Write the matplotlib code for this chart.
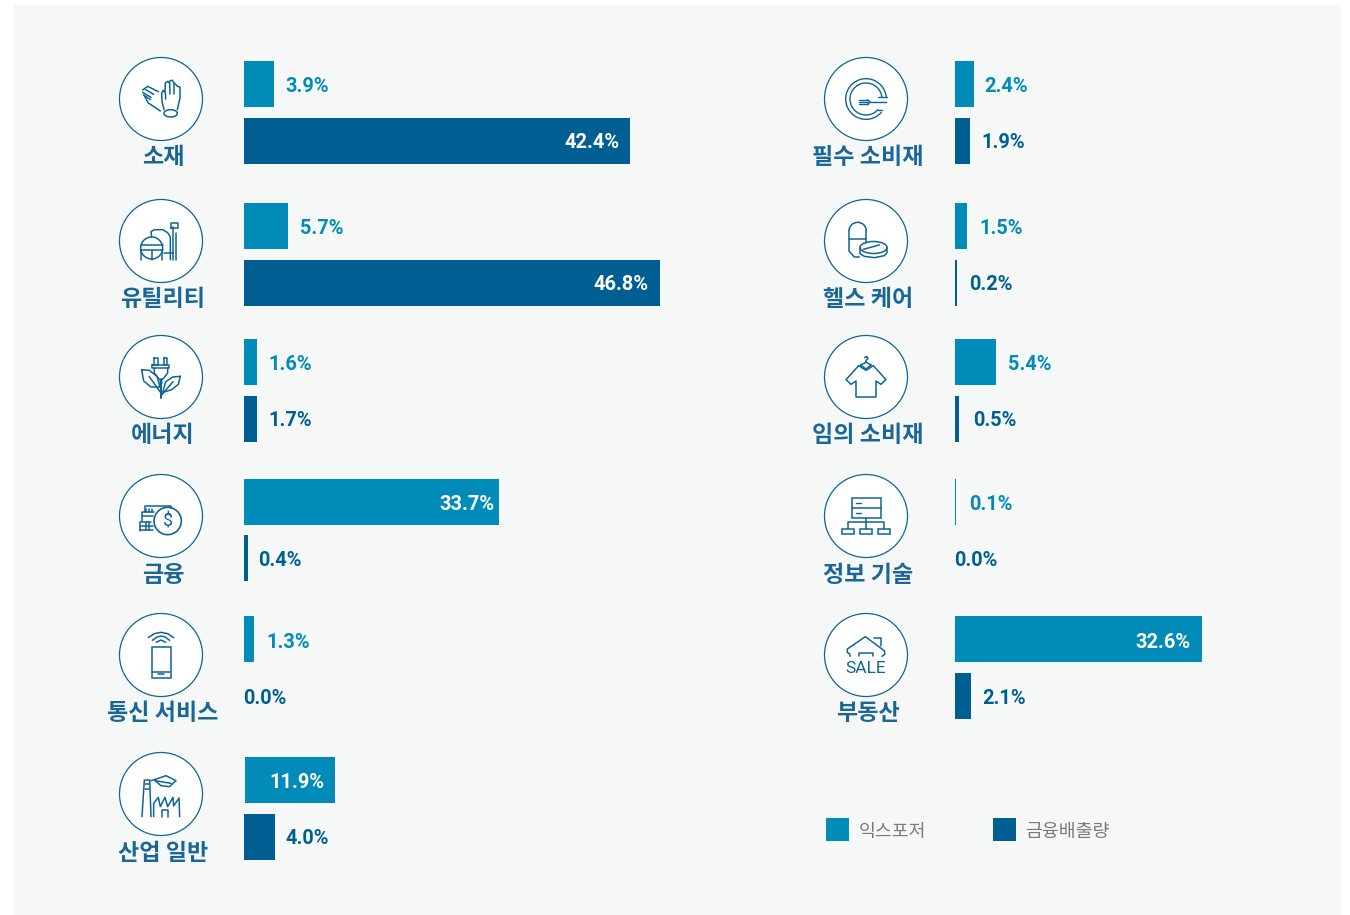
import matplotlib
matplotlib.use('Agg')
import matplotlib.pyplot as plt
from matplotlib.patches import Arc, Circle, Ellipse, Rectangle

plt.rcParams['font.family'] = ['Noto Sans CJK KR', 'DejaVu Sans']

# values as printed on the chart
left_names = ['소재', '유틸리티', '에너지', '금융', '통신 서비스', '산업 일반']
left_exposure = [3.9, 5.7, 1.6, 33.7, 1.3, 11.9]
left_financed = [42.4, 46.8, 1.7, 0.4, 0.0, 4.0]
right_names = ['필수 소비재', '헬스 케어', '임의 소비재', '정보 기술', '부동산']
right_exposure = [2.4, 1.5, 5.4, 0.1, 32.6]
right_financed = [1.9, 0.2, 0.5, 0.0, 2.1]

# bar lengths as drawn: the source does not scale the two longest bars like the rest
left_exposure_len = [3.95, 5.79, 1.71, 33.55, 1.32, 11.84]
left_financed_len = [50.8, 54.7, 1.71, 0.53, 0.0, 4.08]
right_exposure_len = [2.5, 1.58, 5.39, 0.13, 32.5]
right_financed_len = [1.97, 0.26, 0.53, 0.0, 2.1]

legend_names = ['익스포저', '금융배출량']

C_EXP = '#008bb9'
C_FIN = '#005f92'
C_LINE = '#0f6494'
C_NAME = '#1a6797'
W, H = 1350, 915
PX = 7.6  # pixels per unit on the bar axes
BAR_H = 46
row_exp = [61, 203, 339, 479, 616, 757]
row_fin = [118, 260, 396, 535, 673, 814]
row_icon = [99, 241, 377, 516, 655, 794]
row_name = [158, 300, 436, 575, 714, 853]
label_exp_y = [87, 229, 365, 504, 642, 782]
label_fin_y = [143, 285, 421, 561, 698, 839]

fig = plt.figure(figsize=(13.5, 9.15), dpi=100, facecolor='white')
bg = fig.add_axes([0, 0, 1, 1])
bg.set_xlim(0, W)
bg.set_ylim(H, 0)
bg.axis('off')
bg.add_patch(Rectangle((14, 5), 1327, 910, fc='#f6f8f8', ec='none'))


def pl(cx, cy, pts, lw=1.1):
    # points are in 1/3 pixel units around the icon centre
    bg.plot([cx + p[0] / 3 for p in pts], [cy + p[1] / 3 for p in pts], color=C_LINE, lw=lw,
            solid_joinstyle='round', solid_capstyle='round', zorder=4)


def arc(cx, cy, x, y, w, h, a1=0, a2=360, lw=1.1):
    bg.add_patch(Arc((cx + x / 3, cy + y / 3), w / 3, h / 3, theta1=a1, theta2=a2, color=C_LINE, lw=lw, zorder=4))


def glove(c, y):
    pl(c, y, [(9, 32), (3, 7), (2, -18), (7, -26), (12, -20), (13, -48), (20, -53), (25, -48), (27, -55), (34, -56),
              (39, -48), (45, -43), (49, -38), (57, -36), (57, -3), (49, 32)])
    pl(c, y, [(13, -20), (14, 0)])
    pl(c, y, [(26, -48), (27, -15)])
    pl(c, y, [(39, -48), (39, -15)])
    arc(c, y, 29, 43, 40, 22)
    pl(c, y, [(-55, -27), (-40, -38), (-8, -22)])
    pl(c, y, [(-55, -20), (-30, -5)])
    pl(c, y, [(-52, -12), (-32, 2)])
    pl(c, y, [(-46, -28), (-22, -14)])
    pl(c, y, [(-50, -10), (-38, 12), (-2, 36)])


def plant(c, y):
    arc(c, y, -28, 21, 66, 66)
    pl(c, y, [(-61, 11), (5, 11)])
    pl(c, y, [(-61, 26), (5, 26)])
    pl(c, y, [(-60, 26), (-60, 56)])
    pl(c, y, [(4, 26), (4, 56)])
    pl(c, y, [(-28, 26), (-28, 56)])
    pl(c, y, [(-28, -12), (-30, -28), (-20, -34), (5, -34), (20, -25), (28, -12), (28, 56)])
    pl(c, y, [(36, 56), (36, -42)])
    pl(c, y, [(46, 56), (46, -25)])
    pl(c, y, [(30, -38), (30, -54), (50, -54), (50, -38), (30, -38)])
    pl(c, y, [(8, 35), (36, 35)])


def leafplug(c, y):
    pl(c, y, [(-22, -58), (-22, -36), (-10, -36), (-10, -58), (-22, -58)])
    pl(c, y, [(8, -58), (8, -36), (19, -36), (19, -58), (8, -58)])
    pl(c, y, [(-26, -36), (25, -36), (25, -28), (-26, -28), (-26, -36)])
    pl(c, y, [(-20, -28), (-20, -12), (-6, 6), (-2, 6), (-2, 20)])
    pl(c, y, [(20, -28), (20, -12), (6, 6), (2, 6), (2, 20)])
    pl(c, y, [(0, 20), (0, 62)], lw=1.5)
    pl(c, y, [(-58, -22), (-35, -20), (-12, -2), (-3, 30), (-30, 30), (-52, 12), (-58, -22)])
    pl(c, y, [(-36, -2), (0, 48)])
    pl(c, y, [(58, -2), (35, 0), (14, 14), (5, 46), (32, 38), (52, 22), (58, -2)])
    pl(c, y, [(36, 14), (0, 56)])


def money(c, y):
    bg.add_patch(Circle((c + 20 / 3, y + 15 / 3), 41 / 3, fc='none', ec=C_LINE, lw=1.2, zorder=4))
    bg.text(c + 20 / 3, y + 15 / 3, '$', color=C_LINE, ha='center', va='center', fontsize=13, family='Roboto', zorder=4)
    pl(c, y, [(-48, -12), (-48, -30), (30, -30), (30, -24)])
    pl(c, y, [(-58, 15), (-58, -12), (-20, -12)])
    pl(c, y, [(-62, 45), (-62, 18), (-30, 18)])
    pl(c, y, [(-62, 43), (-24, 43)])
    pl(c, y, [(-62, 30), (-25, 30)])
    pl(c, y, [(-58, 0), (-25, 0)])
    for d in (-45, -36):
        pl(c, y, [(d, -22), (d, -12)])
        pl(c, y, [(d, 18), (d, 43)])
    pl(c, y, [(-28, -22), (-28, -12)])


def phone(c, y):
    bg.add_patch(Rectangle((c - 9.5, y - 8.5), 19, 31, fc='none', ec=C_LINE, lw=1.1, zorder=4))
    pl(c, y, [(-28, 50), (28, 50)])
    pl(c, y, [(-8, 58), (8, 58)])
    pl(c, y, [(-38, -52), (-20, -64), (0, -68), (20, -64), (38, -52)])
    pl(c, y, [(-26, -44), (-12, -54), (0, -57), (12, -54), (26, -44)])
    pl(c, y, [(-14, -38), (0, -45), (14, -38)])


def factory(c, y):
    pl(c, y, [(-57, 68), (-50, -42), (-34, -42), (-30, 68)])
    pl(c, y, [(-48, -30), (-36, -30)])
    pl(c, y, [(-48, -15), (-36, -15)])
    pl(c, y, [(-22, 68), (-22, 28), (-8, 10), (-2, 38), (12, 10), (20, 38), (36, 10), (38, 36), (54, 12), (56, 68)])
    pl(c, y, [(2, 68), (2, 48), (22, 48), (22, 68)])
    pl(c, y, [(-30, -40), (-5, -48), (15, -55), (45, -40), (25, -22), (0, -25), (-18, -40)])
    pl(c, y, [(-18, -40), (30, -32)])


def plate(c, y):
    arc(c, y, 0, 0, 122, 122, 40, 355, lw=1)
    arc(c, y, 0, 0, 96, 96, 40, 355, lw=1)
    pl(c, y, [(-22, 2), (5, 2)], lw=1)
    pl(c, y, [(-22, 9), (5, 9)], lw=1)
    pl(c, y, [(-22, 16), (5, 16)], lw=1)
    pl(c, y, [(5, 2), (12, 9), (5, 16)], lw=1)
    pl(c, y, [(12, 9), (60, 9)], lw=1)
    pl(c, y, [(36, -5), (62, -5)], lw=1)
    pl(c, y, [(36, 34), (48, 34)], lw=1)


def pill(c, y):
    arc(c, y, -25, -30, 52, 52, 180, 360)
    pl(c, y, [(-51, -30), (-51, 30), (-35, 48), (-20, 48)])
    pl(c, y, [(1, -30), (1, 5)])
    pl(c, y, [(-51, -5), (1, -5)])
    bg.add_patch(Ellipse((c + 7.5, y + 6.5), 27, 12, fc='none', ec=C_LINE, lw=1.1, zorder=4))
    pl(c, y, [(-18, 20), (-18, 38), (-5, 46), (25, 50), (55, 44), (63, 35), (63, 20)])
    pl(c, y, [(-8, 25), (40, 12)])


def shirt(c, y):
    pl(c, y, [(-22, -34), (-60, 8), (-45, 22), (-30, 12), (-30, 60), (30, 60), (30, 12), (45, 22), (60, 8), (22, -34),
              (0, -20), (-22, -34)])
    pl(c, y, [(-16, -36), (0, -24), (16, -36), (0, -44), (-16, -36)])
    pl(c, y, [(0, -44), (0, -50), (6, -56), (2, -62), (-4, -58)])


def server(c, y):
    bg.add_patch(Rectangle((c - 14, y - 18), 28.5, 20, fc='none', ec=C_LINE, lw=1.1, zorder=4))
    pl(c, y, [(-42, -25), (44, -25)])
    pl(c, y, [(-30, -40), (-14, -40)], lw=1)
    pl(c, y, [(-30, -9), (-14, -9)], lw=1)
    pl(c, y, [(0, 7), (0, 38)])
    pl(c, y, [(-54, 38), (-54, 18), (54, 18), (54, 38)])
    for d in (-55, 0, 55):
        bg.add_patch(Rectangle((c + d / 3 - 6, y + 12.7), 12, 5.6, fc='none', ec=C_LINE, lw=1.1, zorder=4))


def house(c, y):
    pl(c, y, [(-56, -8), (-56, -18), (-2, -55), (56, -12), (56, -2)])
    pl(c, y, [(24, -50), (46, -50), (46, -26)])
    pl(c, y, [(-56, -8), (-48, -2), (-48, 4)])
    pl(c, y, [(56, -2), (48, 4)])
    pl(c, y, [(-20, 4), (-20, -6), (20, -6), (20, 4)])
    bg.text(c, y + 13.5, 'SALE', color=C_LINE, ha='center', va='center', fontsize=12.5, family='Roboto', zorder=4)


left_icons = [glove, plant, leafplug, money, phone, factory]
right_icons = [plate, pill, shirt, server, house]


def draw_panel(x0, name_x, names, exp, fin, exp_len, fin_len, icons, inside, gaps):
    ax = fig.add_axes([x0 / W, 0, 60 * PX / W, 1])
    ax.set_xlim(0, 60)
    ax.set_ylim(H, 0)
    ax.axis('off')
    ax.patch.set_alpha(0)
    for i, name in enumerate(names):
        start = 0.13 if exp[i] == 11.9 else 0
        ax.barh(row_exp[i], exp_len[i], left=start, height=BAR_H, align='edge', color=C_EXP)
        ax.barh(row_fin[i], fin_len[i], height=BAR_H, align='edge', color=C_FIN)
        for val, ln, ty, col in ((exp[i], exp_len[i] + start, label_exp_y[i], C_EXP), (fin[i], fin_len[i], label_fin_y[i], C_FIN)):
            gap = gaps.get(val, 11) * 0.72
            inner = val in inside
            ax.annotate(f'{val:.1f}%', (ln, ty), xytext=(-gap if inner else gap, 0),
                        textcoords='offset points', ha='right' if inner else 'left', va='center',
                        color='white' if inner else col, fontsize=14.4, fontweight='bold', family='Roboto')
        bg.add_patch(Circle((name_x, row_icon[i]), 41.5, fc='white', ec=C_LINE, lw=0.9, zorder=3))
        icons[i](name_x, row_icon[i])
        bg.text(name_x + 2, row_name[i], name, ha='center', va='center', color=C_NAME, fontsize=16.6, fontweight='bold')


draw_panel(244, 161, left_names, left_exposure, left_financed, left_exposure_len, left_financed_len, left_icons,
           [42.4, 46.8, 33.7, 11.9], {33.7: 4, 11.9: 10, 0.0: -1, 0.4: 10, 4.0: 10, 1.3: 12, 5.7: 12, 42.4: 11, 46.8: 11})
draw_panel(955, 866, right_names, right_exposure, right_financed, right_exposure_len, right_financed_len, right_icons,
           [32.6], {0.0: -1, 2.4: 10, 1.5: 12, 0.2: 12, 5.4: 12, 0.1: 13, 0.5: 14})

# legend
for name, col, sx, tx in zip(legend_names, [C_EXP, C_FIN], [826, 993], [859, 1025]):
    bg.add_patch(Rectangle((sx, 818), 23, 23, fc=col, ec='none'))
    bg.text(tx, 832, name, ha='left', va='center', color='#7a7a7a', fontsize=13.2)

fig.savefig('out.png', dpi=100)
